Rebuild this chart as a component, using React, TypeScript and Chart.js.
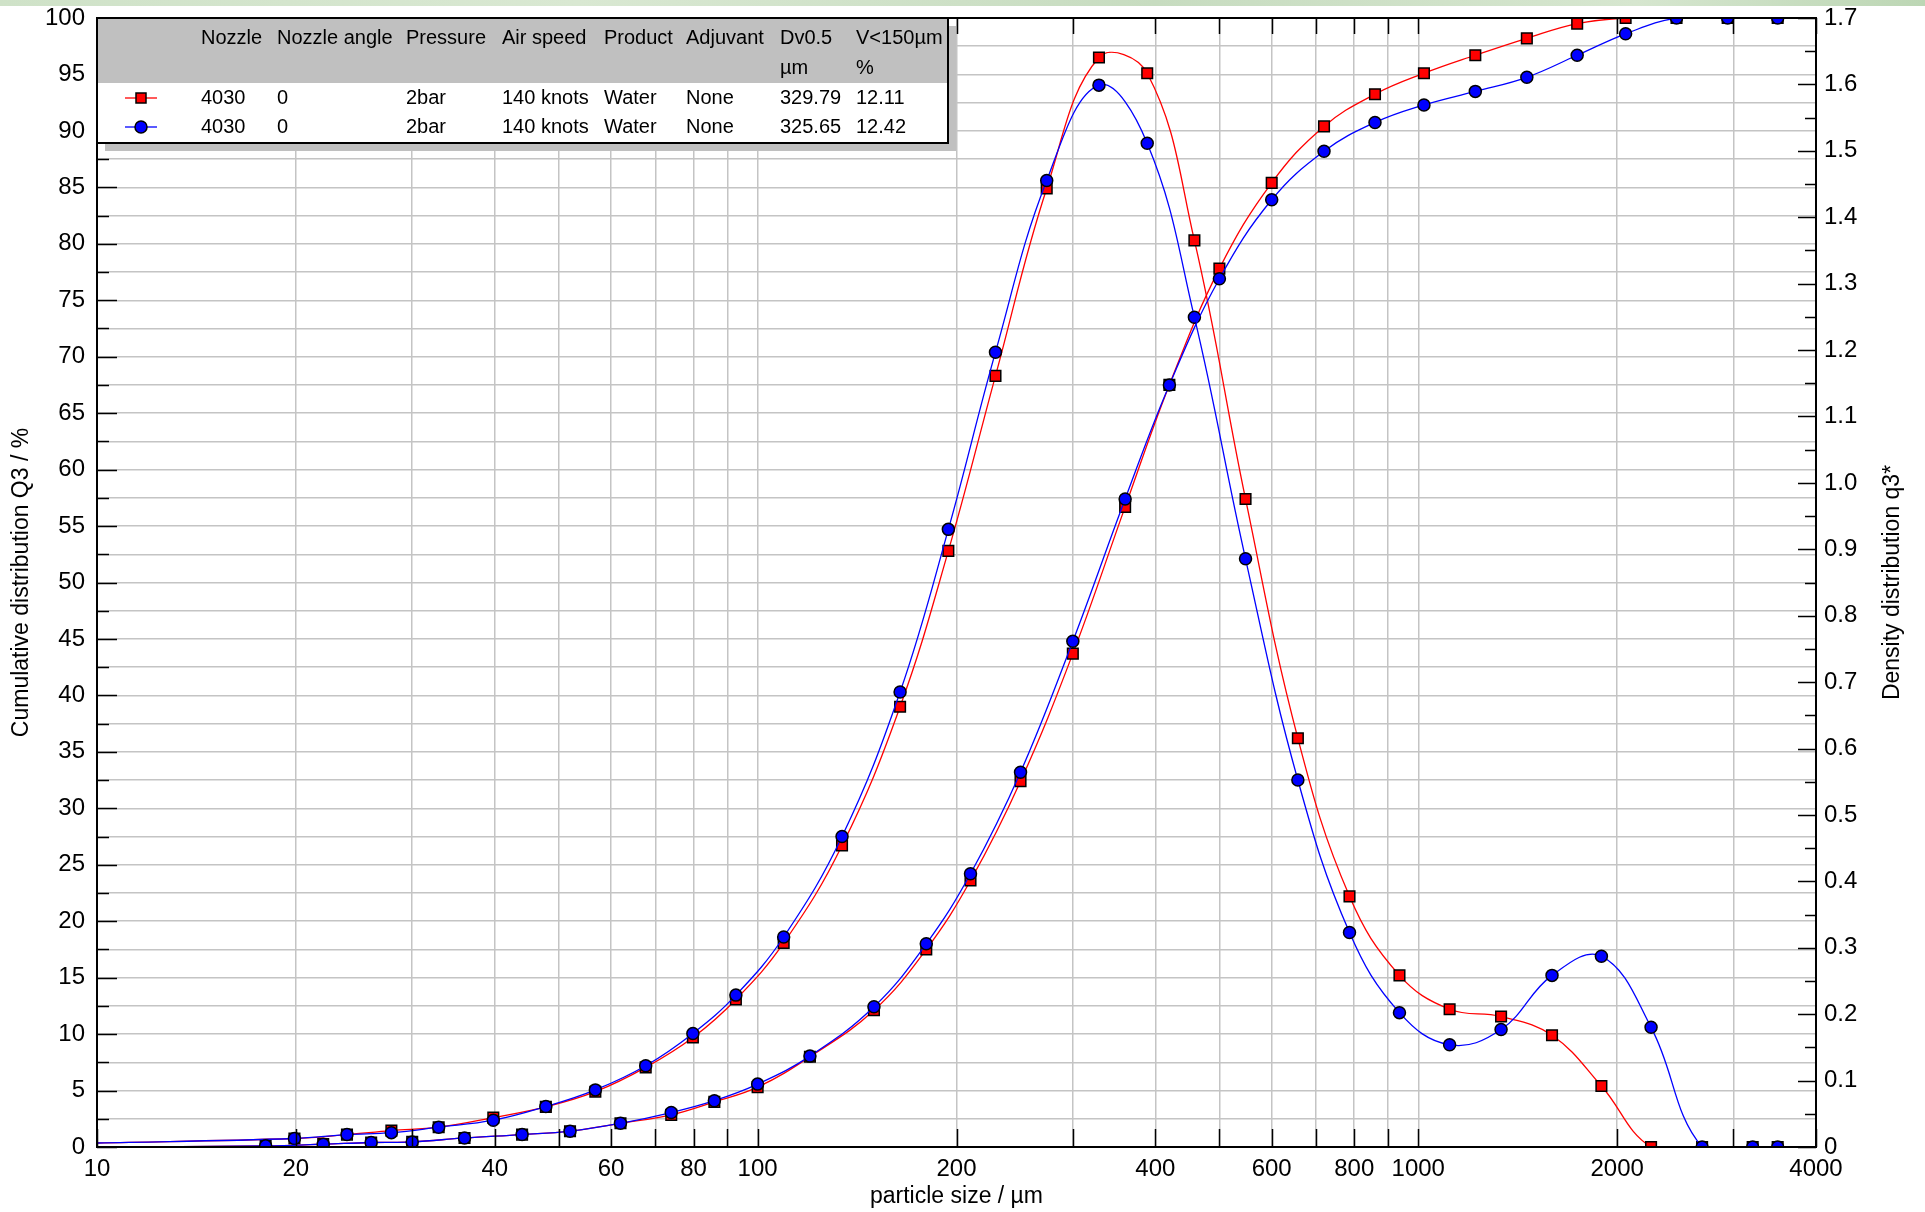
import React, { useEffect, useRef } from 'react';
import { Chart, registerables } from 'chart.js';

Chart.register(...registerables);

// ---- Data ----
// Cumulative distribution Q3 (%) at upper class boundaries (µm); first point = line start (no marker)
const cumSizes = [10, 18, 22, 26, 30, 36, 44, 52, 62, 74, 86, 100, 120, 150, 180, 210, 250, 300, 360, 420, 500, 600, 720, 860, 1020, 1220, 1460, 1740, 2060, 2460, 2940, 3500];
const cumRed = [0, 0.1, 0.25, 0.4, 0.45, 0.8, 1.1, 1.4, 2.1, 2.85, 4.0, 5.3, 8.0, 12.11, 17.5, 23.6, 32.4, 43.7, 56.7, 67.5, 77.8, 85.4, 90.4, 93.25, 95.1, 96.7, 98.2, 99.5, 100, 100, 100, 100];
const cumBlue = [0, 0.1, 0.25, 0.4, 0.45, 0.8, 1.1, 1.4, 2.1, 3.05, 4.1, 5.57, 8.05, 12.42, 18.0, 24.2, 33.2, 44.8, 57.4, 67.5, 76.9, 83.9, 88.2, 90.75, 92.3, 93.5, 94.75, 96.7, 98.6, 100, 100, 100];

// Density distribution q3* at class mid points (µm); first point = line start (no marker)
const densSizes = [10, 19.9, 23.9, 27.9, 32.9, 39.8, 47.8, 56.8, 67.7, 79.8, 92.7, 109.5, 134.2, 164.3, 194.4, 229.1, 273.9, 328.6, 388.8, 458.3, 547.7, 657.3, 786.9, 936.6, 1115.5, 1334.6, 1593.9, 1893.3, 2251.1, 2689.3, 3207.8, 3500];
const densRed = [0.006, 0.0128, 0.0187, 0.0247, 0.0298, 0.0442, 0.0604, 0.0833, 0.1199, 0.1649, 0.2222, 0.3072, 0.4539, 0.663, 0.8976, 1.1611, 1.4433, 1.6405, 1.6167, 1.3651, 0.9758, 0.6154, 0.3774, 0.2584, 0.2074, 0.1964, 0.1683, 0.0918, 0, 0, 0, 0];
const densBlue = [0.006, 0.0128, 0.0187, 0.0216, 0.0298, 0.0403, 0.0609, 0.086, 0.1224, 0.171, 0.2287, 0.3162, 0.4675, 0.6851, 0.93, 1.1968, 1.4552, 1.5989, 1.5113, 1.2495, 0.8857, 0.5525, 0.323, 0.2023, 0.1539, 0.1768, 0.2584, 0.2873, 0.1802, 0, 0, 0];

// Axis ticks
const xTicks = [10, 20, 30, 40, 50, 60, 70, 80, 90, 100, 200, 300, 400, 500, 600, 700, 800, 900, 1000, 2000, 3000, 4000];
const xLabels = [10, 20, 40, 60, 80, 100, 200, 400, 600, 800, 1000, 2000, 4000];
const yLeftTicks = Array.from({ length: 41 }, (_, i) => i * 2.5);
const yRightTicks = Array.from({ length: 35 }, (_, i) => Math.round(i * 5) / 100);

// Legend table
const legendHead1 = ['Nozzle', 'Nozzle angle', 'Pressure', 'Air speed', 'Product', 'Adjuvant', 'Dv0.5', 'V<150µm'];
const legendHead2 = ['', '', '', '', '', '', 'µm', '%'];
const legendRowRed = ['4030', '0', '2bar', '140 knots', 'Water', 'None', '329.79', '12.11'];
const legendRowBlue = ['4030', '0', '2bar', '140 knots', 'Water', 'None', '325.65', '12.42'];

const FONT = '"Liberation Sans", Arial, sans-serif';
const RED = '#ff0000';
const BLUE = '#0000ff';

const framePlugin = {
  id: 'frame',
  afterDraw(chart: any) {
    const { ctx, chartArea: a, scales } = chart;
    const xs = scales.x, yl = scales.y, yr = scales.y1;
    ctx.save();
    ctx.strokeStyle = '#000';
    // ticks (inside)
    ctx.lineWidth = 1.5;
    ctx.beginPath();
    xTicks.forEach((v) => {
      const px = Math.round(xs.getPixelForValue(v)) + 0.5;
      ctx.moveTo(px, a.bottom);
      ctx.lineTo(px, a.bottom - 18);
      ctx.moveTo(px, a.top);
      ctx.lineTo(px, a.top + 16);
    });
    yLeftTicks.forEach((v, i) => {
      const py = Math.round(yl.getPixelForValue(v)) + 0.5;
      ctx.moveTo(a.left, py);
      ctx.lineTo(a.left + (i % 2 === 0 ? 20 : 12), py);
    });
    yRightTicks.forEach((v, i) => {
      const py = Math.round(yr.getPixelForValue(v)) + 0.5;
      ctx.moveTo(a.right, py);
      ctx.lineTo(a.right - (i % 2 === 0 ? 18 : 11), py);
    });
    ctx.stroke();
    // frame
    ctx.lineWidth = 2;
    ctx.strokeRect(a.left, a.top, a.right - a.left, a.bottom - a.top);

    // legend table
    const L = a.left, T = a.top, R = 948, B = 143, H = 83;
    ctx.fillStyle = '#c0c0c0';
    ctx.fillRect(L + 8, T + 8, R - L, B - T);
    ctx.fillStyle = '#ffffff';
    ctx.fillRect(L, T, R - L, B - T);
    ctx.fillStyle = '#c0c0c0';
    ctx.fillRect(L, T, R - L, H - T);
    ctx.lineWidth = 2;
    ctx.strokeStyle = '#000';
    ctx.strokeRect(L, T, R - L, B - T);

    const cols = [201, 277, 406, 502, 604, 686, 780, 856];
    ctx.font = `20px ${FONT}`;
    ctx.fillStyle = '#000';
    ctx.textBaseline = 'middle';
    ctx.textAlign = 'left';
    const r1 = 98, r2 = 127;
    const rows: [string[], number][] = [
      [legendHead1, 38],
      [legendHead2, 68],
      [legendRowRed, r1],
      [legendRowBlue, r2],
    ];
    rows.forEach(([texts, yy]) => {
      texts.forEach((t, i) => {
        if (t) ctx.fillText(t, cols[i], yy);
      });
    });
    // legend symbols
    ctx.lineWidth = 1.3;
    ctx.strokeStyle = RED;
    ctx.beginPath();
    ctx.moveTo(125, r1);
    ctx.lineTo(157, r1);
    ctx.stroke();
    ctx.strokeStyle = BLUE;
    ctx.beginPath();
    ctx.moveTo(125, r2);
    ctx.lineTo(157, r2);
    ctx.stroke();
    ctx.lineWidth = 1.5;
    ctx.strokeStyle = '#000';
    ctx.fillStyle = RED;
    ctx.fillRect(136, r1 - 5, 10, 10);
    ctx.strokeRect(136, r1 - 5, 10, 10);
    ctx.fillStyle = BLUE;
    ctx.beginPath();
    ctx.arc(141, r2, 6, 0, Math.PI * 2);
    ctx.fill();
    ctx.stroke();

    // axis titles
    ctx.fillStyle = '#000';
    ctx.font = `23px ${FONT}`;
    ctx.textAlign = 'center';
    ctx.textBaseline = 'middle';
    ctx.fillText('particle size / µm', (a.left + a.right) / 2, 1197);
    ctx.save();
    ctx.translate(22, (a.top + a.bottom) / 2);
    ctx.rotate(-Math.PI / 2);
    ctx.fillText('Cumulative distribution Q3 / %', 0, 0);
    ctx.restore();
    ctx.save();
    ctx.translate(1893, (a.top + a.bottom) / 2);
    ctx.rotate(-Math.PI / 2);
    ctx.fillText('Density distribution q3*', 0, 0);
    ctx.restore();
    ctx.restore();
  },
};

const noPad = (s: any) => {
  s.paddingTop = 0;
  s.paddingBottom = 0;
  s.paddingLeft = 0;
  s.paddingRight = 0;
};

export default function App() {
  const ref = useRef<HTMLCanvasElement>(null);

  useEffect(() => {
    const canvas = ref.current;
    if (!canvas) return;
    const pts = (xs: number[], ys: number[]) => xs.map((x, i) => ({ x, y: ys[i] }));
    const ds = (label: string, xs: number[], ys: number[], color: string, style: string, r: number, axis: string) => ({
      label,
      data: pts(xs, ys),
      yAxisID: axis,
      borderColor: color,
      backgroundColor: color,
      borderWidth: 1.3,
      pointStyle: style,
      pointRadius: (c: any) => (c.dataIndex === 0 ? 0 : r),
      pointHoverRadius: (c: any) => (c.dataIndex === 0 ? 0 : r),
      pointBackgroundColor: color,
      pointBorderColor: '#000',
      pointBorderWidth: 1.5,
      tension: 0.4,
      fill: false,
    });

    const tickFont = { family: FONT, size: 24 };

    const chart = new Chart(canvas, {
      type: 'line',
      data: {
        datasets: [
          ds('Q3 blue', cumSizes, cumBlue, BLUE, 'circle', 6, 'y'),
          ds('q3 blue', densSizes, densBlue, BLUE, 'circle', 6, 'y1'),
          ds('Q3 red', cumSizes, cumRed, RED, 'rect', 7.5, 'y'),
          ds('q3 red', densSizes, densRed, RED, 'rect', 7.5, 'y1'),
        ] as any,
      },
      options: {
        animation: false,
        responsive: false,
        devicePixelRatio: 1,
        layout: { padding: { top: 18, left: 0, right: 0, bottom: 0 } },
        plugins: { legend: { display: false }, tooltip: { enabled: false } },
        events: [],
        font: { family: FONT },
        scales: {
          x: {
            type: 'logarithmic',
            min: 10,
            max: 4000,
            afterBuildTicks: (s: any) => {
              s.ticks = xTicks.map((v) => ({ value: v }));
            },
            afterFit: (s: any) => {
              s.height = 65;
              noPad(s);
            },
            ticks: {
              autoSkip: false,
              maxRotation: 0,
              minRotation: 0,
              padding: 8,
              color: '#000',
              font: tickFont,
              callback: (v: any) => (xLabels.includes(Number(v)) ? String(v) : ''),
            },
            grid: { color: '#c4c4c4', lineWidth: 1.5, drawTicks: false },
            border: { display: false },
          },
          y: {
            type: 'linear',
            position: 'left',
            min: 0,
            max: 100,
            afterBuildTicks: (s: any) => {
              s.ticks = yLeftTicks.map((v) => ({ value: v }));
            },
            afterFit: (s: any) => {
              s.width = 97;
              noPad(s);
            },
            ticks: {
              autoSkip: false,
              padding: 12,
              color: '#000',
              font: tickFont,
              callback: (v: any) => (Number(v) % 5 === 0 ? String(v) : ''),
            },
            grid: { color: '#c4c4c4', lineWidth: 1.5, drawTicks: false },
            border: { display: false },
          },
          y1: {
            type: 'linear',
            position: 'right',
            min: 0,
            max: 1.7,
            afterBuildTicks: (s: any) => {
              s.ticks = yRightTicks.map((v) => ({ value: v }));
            },
            afterFit: (s: any) => {
              s.width = 109;
              noPad(s);
            },
            ticks: {
              autoSkip: false,
              padding: 8,
              color: '#000',
              font: tickFont,
              callback: (v: any) => {
                const n = Number(v);
                const k = Math.round(n * 100);
                if (k % 10 !== 0) return '';
                return k === 0 ? '0' : n.toFixed(1);
              },
            },
            grid: { display: false, drawTicks: false },
            border: { display: false },
          },
        },
      } as any,
      plugins: [framePlugin],
    });
    return () => chart.destroy();
  }, []);

  return (
    <div style={{ position: 'absolute', left: 0, top: 0, width: 1925, height: 1212, background: '#fff', overflow: 'hidden' }}>
      <div
        style={{
          position: 'absolute',
          left: 0,
          top: 0,
          width: 1925,
          height: 6,
          background: 'linear-gradient(90deg, #cfe2c8 0%, #d9e8d2 30%, #c7dcc0 60%, #d6e6cf 85%, #bcd6b4 100%)',
        }}
      />
      <canvas ref={ref} width={1925} height={1212} style={{ position: 'absolute', left: 0, top: 0, width: 1925, height: 1212 }} />
    </div>
  );
}
